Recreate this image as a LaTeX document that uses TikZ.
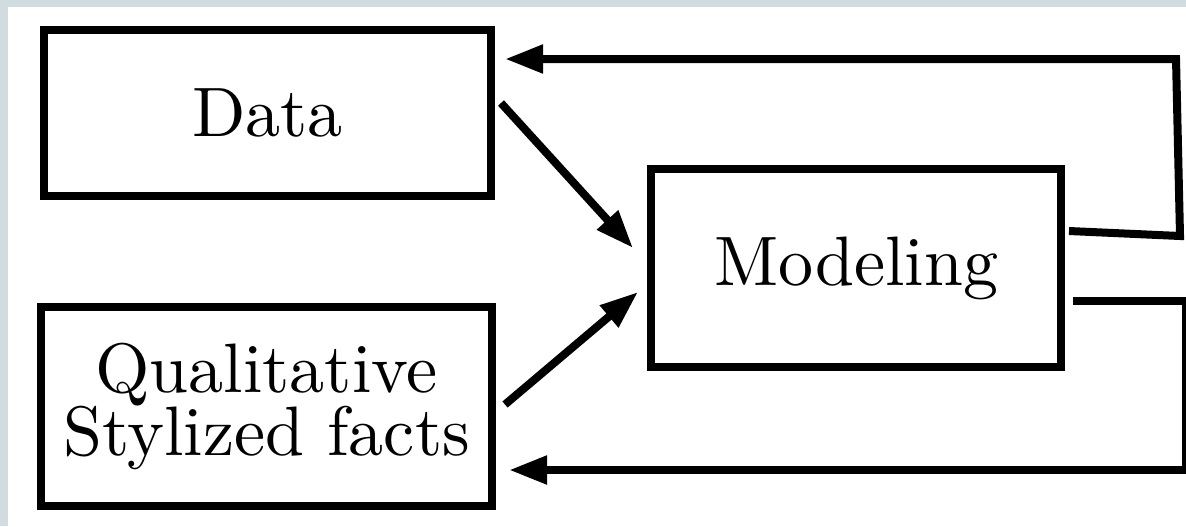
\documentclass[tikz,border=0pt]{standalone}
\usepackage{fontspec}
\setmainfont{lmroman10-regular}[Extension=.otf]
\usetikzlibrary{arrows.meta}
\definecolor{framegray}{HTML}{D1DCE1}

\begin{document}
\begin{tikzpicture}[x=0.5pt, y=-0.5pt,
    box/.style={draw, line width=4pt, font=\fontsize{35}{31.5}\selectfont, align=center, inner sep=0pt},
    link/.style={line width=4pt, -{Triangle[length=19pt,width=13.5pt]}}]

    \useasboundingbox (0,0) rectangle (1186,526);
    \fill [framegray] (0,0) rectangle (1186,7);
    \fill [framegray] (0,0) rectangle (8,526);

    \node [box, minimum width=223.5pt, minimum height=83pt] (data) at (267.5,113) {Data};
    \node [box, minimum width=225.5pt, minimum height=99.5pt] (facts) at (266.5,406.5) {Qualitative\\Stylized facts};
    \node [box, minimum width=205pt, minimum height=99pt] (model) at (856,268) {Modeling};

    \coordinate (ua) at (1180,236);
    \coordinate (ub) at (1176,59);
    \coordinate (la) at (1186,301);
    \coordinate (lb) at (1186,470);

    \draw [link] ([xshift=3pt,yshift=5pt]data.east) to ([xshift=-7pt,yshift=10pt]model.west);
    \draw [link] ([xshift=4.5pt,yshift=1pt]facts.east) to ([xshift=-4.5pt,yshift=-12pt]model.west);
    \draw [link] ([xshift=2pt,yshift=18.5pt]model.east) -- (ua) -- (ub) -- ([xshift=5pt,yshift=27pt]data.east);
    \draw [link] ([xshift=4pt,yshift=-16.5pt]model.east) -- (la) -- (lb) -- ([xshift=6.5pt,yshift=-31.75pt]facts.east);

\end{tikzpicture}
\end{document}
